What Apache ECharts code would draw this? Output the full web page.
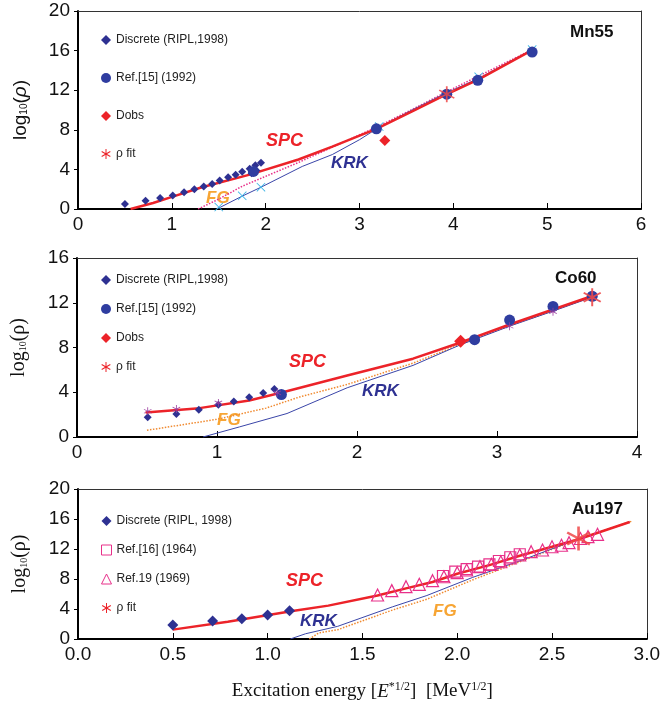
<!DOCTYPE html>
<html>
<head>
<meta charset="utf-8">
<title>Level density: Mn55, Co60, Au197</title>
<script src="https://cdn.jsdelivr.net/npm/echarts@6/dist/echarts.min.js"></script>
<style>
  html, body { margin: 0; padding: 0; background: #fff; }
  #main { width: 663px; height: 716px; }
</style>
</head>
<body>
<div id="main"></div>
<script>
// ---- Mn55 (top panel) ----
const mnDiscreteX = [0.50, 0.72, 0.875, 1.01, 1.13, 1.24, 1.34, 1.43, 1.51, 1.60, 1.68, 1.75, 1.83, 1.85, 1.89, 1.90, 1.95];
const mnDiscreteY = [0.5, 0.83, 1.1, 1.37, 1.7, 2.0, 2.27, 2.53, 2.87, 3.2, 3.47, 3.77, 4.07, 3.6, 4.43, 3.9, 4.67];
const mnRefX = [1.87, 3.18, 3.93, 4.26, 4.84];
const mnRefY = [3.8, 8.1, 11.6, 13.0, 15.85];
const mnDobsX = [3.27];
const mnDobsY = [6.93];
const mnFitX = [3.93];
const mnFitY = [11.6];
const mnCrossX = [1.50, 1.75, 1.95, 3.21, 4.27, 4.84];
const mnCrossY = [0.2, 1.33, 2.2, 8.33, 13.35, 16.1];
const mnSpcX = [0.56, 0.8, 1.01, 1.32, 1.82, 2.35, 2.71, 3.18, 3.55, 3.91, 4.27, 4.84];
const mnSpcY = [0, 0.6, 1.25, 2.2, 3.45, 5.0, 6.3, 8.1, 9.8, 11.5, 13.1, 16.05];
const mnKrkX = [1.48, 1.75, 1.95, 2.39, 2.71, 3.0, 3.2, 3.55, 3.91, 4.27, 4.84];
const mnKrkY = [0, 1.3, 2.2, 4.3, 5.5, 7.0, 8.2, 9.95, 11.65, 13.2, 16.1];
const mnFgX = [1.28, 1.5, 1.75, 2.0, 2.35, 2.7, 3.2, 3.55, 3.91, 4.84];
const mnFgY = [0, 1.0, 2.3, 3.3, 4.7, 6.2, 8.35, 10.0, 11.75, 16.1];

// ---- Co60 (middle panel) ----
const coDiscreteX = [0.505, 0.71, 0.87, 1.01, 1.12, 1.23, 1.33, 1.41];
const coDiscreteY = [1.76, 2.06, 2.43, 2.88, 3.18, 3.55, 3.94, 4.3];
const coRefX = [1.46, 2.84, 3.09, 3.40, 3.68];
const coRefY = [3.8, 8.7, 10.45, 11.67, 12.58];
const coDobsX = [2.74];
const coDobsY = [8.55];
const coFitX = [0.505, 0.71, 1.01, 1.43, 3.09, 3.40, 3.68];
const coFitY = [2.3, 2.5, 3.05, 3.95, 9.9, 11.2, 12.5];
const coSpcX = [0.49, 0.875, 1.23, 1.47, 1.93, 2.4, 2.74, 3.1, 3.4, 3.68];
const coSpcY = [2.18, 2.58, 3.27, 4.0, 5.5, 7.0, 8.45, 10.1, 11.4, 12.6];
const coKrkX = [0.9, 1.16, 1.5, 1.93, 2.4, 2.74, 3.1, 3.4, 3.68];
const coKrkY = [0, 0.9, 2.1, 4.4, 6.4, 8.25, 9.95, 11.25, 12.5];
const coFgX = [0.5, 1.0, 1.35, 1.59, 1.93, 2.4, 2.74, 3.1, 3.4, 3.68];
const coFgY = [0.6, 1.58, 2.58, 3.58, 4.7, 6.6, 8.3, 10.0, 11.3, 12.55];

// ---- Au197 (bottom panel) ----
const auDiscreteX = [0.5, 0.71, 0.864, 1.0, 1.116];
const auDiscreteY = [1.87, 2.4, 2.7, 3.2, 3.78];
const auRef16X = [1.925, 1.99, 2.05, 2.11, 2.17, 2.22, 2.28, 2.33];
const auRef16Y = [8.4, 8.98, 9.33, 9.65, 9.96, 10.4, 10.9, 11.3];
const auRef19X = [1.58, 1.655, 1.73, 1.80, 1.87, 1.93, 2.0, 2.05, 2.12, 2.18, 2.23, 2.28, 2.33, 2.39, 2.45, 2.50, 2.55, 2.59, 2.65, 2.69, 2.74];
const auRef19Y = [5.87, 6.45, 6.98, 7.29, 7.78, 8.3, 8.84, 9.2, 9.65, 9.96, 10.3, 10.8, 11.2, 11.64, 11.87, 12.3, 12.5, 12.84, 13.4, 13.64, 13.96];
const auFitX = [2.64];
const auFitY = [13.4];
const auSpcX = [0.5, 0.79, 1.14, 1.32, 1.58, 1.73, 1.87, 2.0, 2.17, 2.33, 2.5, 2.64, 2.91];
const auSpcY = [1.25, 2.3, 3.78, 4.45, 5.8, 6.75, 7.6, 8.7, 9.85, 11.1, 12.3, 13.3, 15.6];
const auKrkX = [1.12, 1.2, 1.37, 1.66, 1.84, 2.08, 2.34, 2.64, 2.91];
const auKrkY = [0, 0.7, 1.69, 4.3, 5.8, 8.2, 10.5, 13.35, 15.6];
const auFgX = [1.22, 1.27, 1.37, 1.66, 1.84, 2.08, 2.34, 2.64, 2.92];
const auFgY = [0, 0.8, 1.24, 3.87, 5.3, 7.87, 10.4, 13.3, 15.7];

// 色
const NAVY = '#2e3192';
const RED = '#ec2329';
const PINK = '#e8308a';
const ORANGE = '#f7a534';
const SANS = '"Liberation Sans", Arial, sans-serif';
const SERIF = '"Liberation Serif", "Times New Roman", serif';

// 星形（アスタリスク）と×印
const ASTERISK = 'path://M45 0L55 0L55 100L45 100Z M90.8 20.7L95.8 29.3L9.2 79.3L4.2 70.7Z M4.2 29.3L9.2 20.7L95.8 70.7L90.8 79.3Z';
const CROSS = 'path://M12 6L50 44L88 6L94 12L56 50L94 88L88 94L50 56L12 94L6 88L44 50L6 12Z';

function pairs(xs, ys) {
    return xs.map((x, i) => [x, ys[i]]);
}

function lineSeries(idx, name, xs, ys, color, width, type) {
    return {
        name: name, type: 'line', xAxisIndex: idx, yAxisIndex: idx,
        data: pairs(xs, ys), showSymbol: false, symbol: 'none', smooth: false,
        lineStyle: { color: color, width: width, type: type || 'solid' },
        z: 2, silent: true
    };
}

function scatterSeries(idx, name, xs, ys, symbol, size, style) {
    return {
        name: name, type: 'scatter', xAxisIndex: idx, yAxisIndex: idx,
        data: pairs(xs, ys), symbol: symbol, symbolSize: size,
        itemStyle: Object.assign({ opacity: 1 }, style), z: 5
    };
}

const grids = [
    { left: 78, top: 11, width: 563, height: 198 },
    { left: 77, top: 258, width: 560, height: 179 },
    { left: 78, top: 489, width: 575, height: 150 }
];

function xAxisFor(idx, max, interval, decimals) {
    return {
        gridIndex: idx, type: 'value', min: 0, max: max, interval: interval,
        axisLine: { onZero: false, lineStyle: { color: '#000', width: 2 } },
        axisTick: { inside: true, length: 6, lineStyle: { color: '#000', width: 1 } },
        axisLabel: {
            color: '#111', fontFamily: SANS, fontSize: 19, margin: 6,
            formatter: v => decimals ? v.toFixed(decimals) : String(v)
        },
        splitLine: { show: false }
    };
}

function yAxisFor(idx, max, serif) {
    const nameStyle = serif
        ? { a: { fontFamily: SERIF, fontSize: 20, color: '#111' }, s: { fontFamily: SERIF, fontSize: 10, color: '#111', padding: [8, 0, 0, 0] } }
        : { a: { fontFamily: SANS, fontSize: 19, color: '#111' }, s: { fontFamily: SANS, fontSize: 10, color: '#111', padding: [8, 0, 0, 0] }, i: { fontFamily: SANS, fontSize: 19, fontStyle: 'italic', color: '#111' } };
    return {
        gridIndex: idx, type: 'value', min: 0, max: max, interval: 4,
        name: serif ? '{a|log}{s|10}{a|(ρ)}' : '{a|log}{s|10}{a|(}{i|ρ}{a|)}',
        nameLocation: 'middle', nameRotate: 90, nameGap: 48,
        nameTextStyle: { rich: nameStyle },
        axisLine: { lineStyle: { color: '#000', width: 2 } },
        axisTick: { inside: false, length: 4, lineStyle: { color: '#000', width: 1 } },
        axisLabel: { color: '#111', fontFamily: SANS, fontSize: 19, margin: 8 },
        splitLine: { show: false }
    };
}

// 枠（上辺・右辺）用の補助軸
function frameX(idx, max) {
    return {
        gridIndex: idx, type: 'value', position: 'top', min: 0, max: max,
        axisLine: { onZero: false, lineStyle: { color: '#333', width: 1 } },
        axisTick: { show: false }, axisLabel: { show: false }, splitLine: { show: false }
    };
}
function frameY(idx, max) {
    return {
        gridIndex: idx, type: 'value', position: 'right', min: 0, max: max,
        axisLine: { show: true, onZero: false, lineStyle: { color: '#333', width: 1 } },
        axisTick: { show: false }, axisLabel: { show: false }, splitLine: { show: false }
    };
}

function legendFor(top, gap, names, icons) {
    return {
        orient: 'vertical', left: 96, top: top, itemGap: gap,
        itemWidth: 10, itemHeight: 10, selectedMode: false,
        textStyle: { fontFamily: SANS, fontSize: 12, color: '#222' },
        formatter: n => n.split('#')[0],
        data: names.map((n, i) => Object.assign({ name: n }, icons[i]))
    };
}

const chart = echarts.init(document.getElementById('main'));

const option = {
    animation: false,
    backgroundColor: '#fff',
    grid: grids,
    xAxis: [
        xAxisFor(0, 6, 1, 0),
        xAxisFor(1, 4, 1, 0),
        Object.assign(xAxisFor(2, 3, 0.5, 1), {
            name: '{t|Excitation energy [}{i|E}{u|*1/2}{t|]  [MeV}{u|1/2}{t|]}',
            nameLocation: 'middle', nameGap: 42,
            nameTextStyle: {
                rich: {
                    t: { fontFamily: SERIF, fontSize: 19, color: '#111' },
                    i: { fontFamily: SERIF, fontSize: 19, fontStyle: 'italic', color: '#111' },
                    u: { fontFamily: SERIF, fontSize: 12, color: '#111', padding: [0, 0, 9, 0] }
                }
            }
        }),
        frameX(0, 6), frameX(1, 4), frameX(2, 3)
    ],
    yAxis: [
        yAxisFor(0, 20, false),
        yAxisFor(1, 16, true),
        yAxisFor(2, 20, true),
        frameY(0, 20), frameY(1, 16), frameY(2, 20)
    ],
    legend: [
        legendFor(29, 26,
            ['Discrete (RIPL,1998)#1', 'Ref.[15] (1992)#1', 'Dobs#1', 'ρ fit#1'],
            [{ icon: 'diamond' }, { icon: 'circle' }, { icon: 'diamond' }, { icon: ASTERISK, itemStyle: { color: RED, opacity: 1 } }]),
        legendFor(269, 17,
            ['Discrete (RIPL,1998)#2', 'Ref.[15] (1992)#2', 'Dobs#2', 'ρ fit#2'],
            [{ icon: 'diamond' }, { icon: 'circle' }, { icon: 'diamond' }, { icon: ASTERISK, itemStyle: { color: RED, opacity: 1 } }]),
        legendFor(510, 17,
            ['Discrete (RIPL, 1998)#3', 'Ref.[16] (1964)#3', 'Ref.19 (1969)#3', 'ρ fit#3'],
            [{ icon: 'diamond' },
             { icon: 'rect', itemStyle: { color: '#fff', borderColor: PINK, borderWidth: 1 } },
             { icon: 'triangle', itemStyle: { color: '#fff', borderColor: PINK, borderWidth: 1 } },
             { icon: ASTERISK, itemStyle: { color: RED, opacity: 1 } }])
    ],
    series: [
        // Mn55
        lineSeries(0, 'FG1', mnFgX, mnFgY, PINK, 1.5, 'dotted'),
        lineSeries(0, 'KRK1', mnKrkX, mnKrkY, '#3a45a8', 1),
        lineSeries(0, 'SPC1', mnSpcX, mnSpcY, RED, 2.5),
        scatterSeries(0, 'Discrete (RIPL,1998)#1', mnDiscreteX, mnDiscreteY, 'diamond', 8, { color: NAVY }),
        scatterSeries(0, 'cross1', mnCrossX, mnCrossY, CROSS, 9, { color: '#41b6e6' }),
        scatterSeries(0, 'Ref.[15] (1992)#1', mnRefX, mnRefY, 'circle', 11, { color: '#2f3da0' }),
        scatterSeries(0, 'Dobs#1', mnDobsX, mnDobsY, 'diamond', 11, { color: RED }),
        scatterSeries(0, 'ρ fit#1', mnFitX, mnFitY, ASTERISK, 16, { color: '#f04848', opacity: 0.85 }),

        // Co60
        lineSeries(1, 'FG2', coFgX, coFgY, '#f08a30', 1.5, 'dotted'),
        lineSeries(1, 'KRK2', coKrkX, coKrkY, '#3a45a8', 1),
        lineSeries(1, 'SPC2', coSpcX, coSpcY, RED, 2.5),
        scatterSeries(1, 'Discrete (RIPL,1998)#2', coDiscreteX, coDiscreteY, 'diamond', 8, { color: NAVY }),
        scatterSeries(1, 'Ref.[15] (1992)#2', coRefX, coRefY, 'circle', 11, { color: '#2f3da0' }),
        scatterSeries(1, 'Dobs#2', coDobsX, coDobsY, 'diamond', 13, { color: RED }),
        scatterSeries(1, 'ρ fit#2', coFitX, coFitY, ASTERISK,
            (v, p) => p.dataIndex === coFitX.length - 1 ? 18 : 8,
            { color: p => p.dataIndex === coFitX.length - 1 ? '#f04848' : '#9a3a9e', opacity: 0.9 }),

        // Au197
        lineSeries(2, 'FG3', auFgX, auFgY, '#f08a30', 1.5, 'dotted'),
        lineSeries(2, 'KRK3', auKrkX, auKrkY, '#3a45a8', 1),
        lineSeries(2, 'SPC3', auSpcX, auSpcY, RED, 2.5),
        scatterSeries(2, 'Discrete (RIPL, 1998)#3', auDiscreteX, auDiscreteY, 'diamond', 11, { color: NAVY }),
        scatterSeries(2, 'Ref.[16] (1964)#3', auRef16X, auRef16Y, 'rect', 11, { color: 'rgba(0,0,0,0)', borderColor: PINK, borderWidth: 1.2 }),
        scatterSeries(2, 'Ref.19 (1969)#3', auRef19X, auRef19Y, 'triangle', 12, { color: 'rgba(0,0,0,0)', borderColor: PINK, borderWidth: 1.2 }),
        scatterSeries(2, 'ρ fit#3', auFitX, auFitY, ASTERISK, 24, { color: '#f04848', opacity: 0.85 })
    ],
    graphic: [
        // 核種名
        { type: 'text', left: 570, top: 24, style: { text: 'Mn55', font: 'bold 17px ' + SANS, fill: '#111' } },
        { type: 'text', left: 555, top: 270, style: { text: 'Co60', font: 'bold 17px ' + SANS, fill: '#111' } },
        { type: 'text', left: 572, top: 501, style: { text: 'Au197', font: 'bold 17px ' + SANS, fill: '#111' } },
        // モデル名ラベル
        { type: 'text', left: 266, top: 132, style: { text: 'SPC', font: 'italic bold 18px ' + SANS, fill: RED } },
        { type: 'text', left: 331, top: 155, style: { text: 'KRK', font: 'italic bold 17px ' + SANS, fill: NAVY } },
        { type: 'text', left: 206, top: 190, style: { text: 'FG', font: 'italic bold 17px ' + SANS, fill: ORANGE } },
        { type: 'text', left: 289, top: 353, style: { text: 'SPC', font: 'italic bold 18px ' + SANS, fill: RED } },
        { type: 'text', left: 362, top: 383, style: { text: 'KRK', font: 'italic bold 17px ' + SANS, fill: NAVY } },
        { type: 'text', left: 217, top: 412, style: { text: 'FG', font: 'italic bold 17px ' + SANS, fill: ORANGE } },
        { type: 'text', left: 286, top: 572, style: { text: 'SPC', font: 'italic bold 18px ' + SANS, fill: RED } },
        { type: 'text', left: 300, top: 613, style: { text: 'KRK', font: 'italic bold 17px ' + SANS, fill: NAVY } },
        { type: 'text', left: 433, top: 603, style: { text: 'FG', font: 'italic bold 17px ' + SANS, fill: ORANGE } }
    ]
};

chart.setOption(option);
</script>
</body>
</html>
